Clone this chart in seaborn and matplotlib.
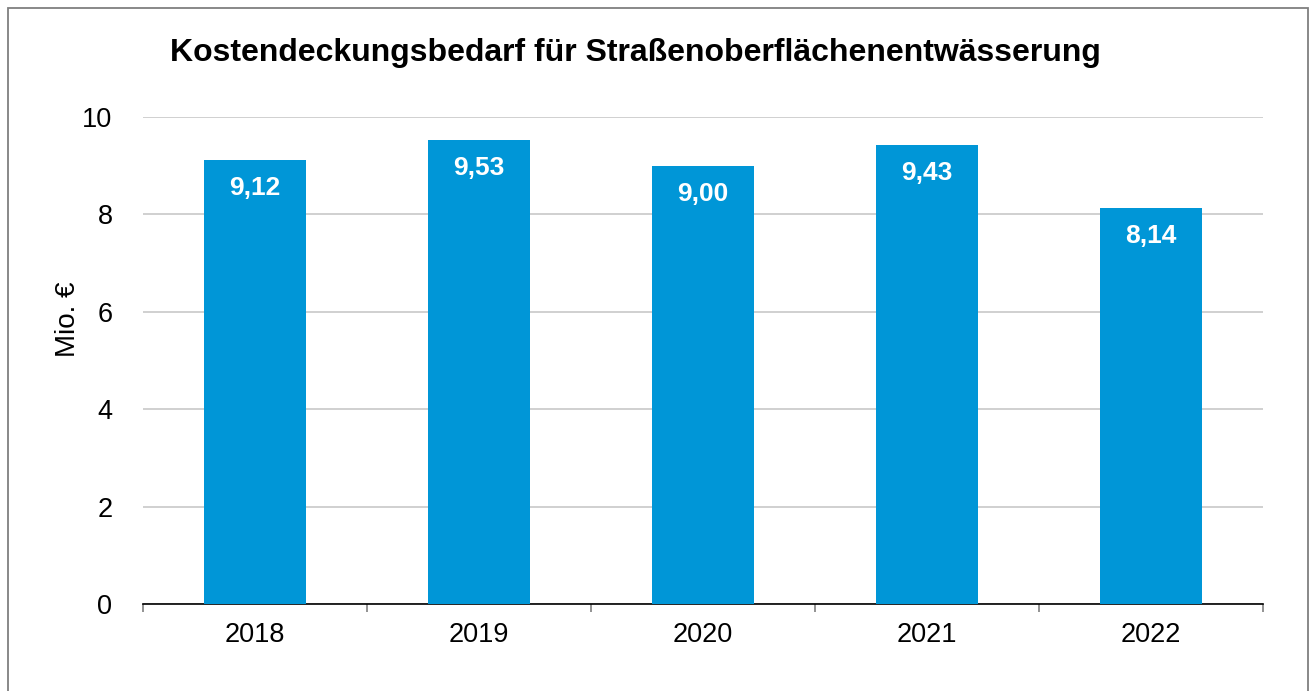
import matplotlib
matplotlib.use("Agg")
import matplotlib.pyplot as plt
import seaborn as sns
import pandas as pd
from matplotlib.patches import Rectangle

years = ["2018", "2019", "2020", "2021", "2022"]
values = [9.12, 9.53, 9.00, 9.43, 8.14]
value_labels = ["9,12", "9,53", "9,00", "9,43", "8,14"]
title = "Kostendeckungsbedarf für Straßenoberflächenentwässerung"
ylabel = "Mio. €"

sns.set_theme(style="white")
plt.rcParams['font.family'] = ['Liberation Sans', 'DejaVu Sans']

df = pd.DataFrame({"Jahr": years, "Wert": values})

fig = plt.figure(figsize=(13.11, 6.91), dpi=100)
ax = fig.add_axes([143/1311, 1-604/691, (1263-143)/1311, (604-117)/691])

sns.barplot(data=df, x="Jahr", y="Wert", color="#0096D7", saturation=1,
            width=0.455, ax=ax, zorder=3, linewidth=0, edgecolor="none")

ax.set_ylim(0, 10)
ax.set_xlim(-0.5, len(years) - 0.5)
ax.set_yticks([0, 2, 4, 6, 8, 10])
ax.set_yticklabels(["0", "2", "4", "6", "8", "10"])
ax.yaxis.grid(True, color="#C8C8C8", linewidth=1.2, zorder=0)
ax.set_axisbelow(True)

# category boundaries as major ticks, labels at centers
ax.set_xticks([i - 0.5 for i in range(len(years) + 1)])
ax.set_xticklabels([])
ax.set_xticks(range(len(years)), minor=True)
ax.set_xticklabels(years, minor=True)
ax.tick_params(axis="x", which="major", length=6, width=1.2, color="#808080", direction="out", bottom=True)
ax.tick_params(axis="x", which="minor", length=0, labelsize=19.5, pad=13, colors="black")
ax.tick_params(axis="y", length=0, labelsize=19.5, pad=22, colors="black")

for s in ["top", "right", "left"]:
    ax.spines[s].set_visible(False)
ax.spines["bottom"].set_color("black")
ax.spines["bottom"].set_linewidth(1.2)

ax.set_xlabel("")
ax.set_ylabel(ylabel, fontsize=20, color="black")
ax.yaxis.set_label_coords(-(143-81)/1120, 0.585)

for i, (v, lab) in enumerate(zip(values, value_labels)):
    ax.annotate(lab, xy=(i, v), xytext=(0, -20.5), textcoords="offset points",
                ha="center", va="center", color="white", fontsize=19, fontweight="bold", zorder=5)

fig.text(170/1311, 1-53/691, title, ha="left", va="center", fontsize=23, fontweight="bold", color="black")

# outer border
fig.patches.append(Rectangle((8/1311, -0.01), (1308-8)/1311, 1.01-8/691, transform=fig.transFigure,
                             fill=False, edgecolor="#7F7F7F", linewidth=1.3))

fig.savefig("out.png", dpi=100)
